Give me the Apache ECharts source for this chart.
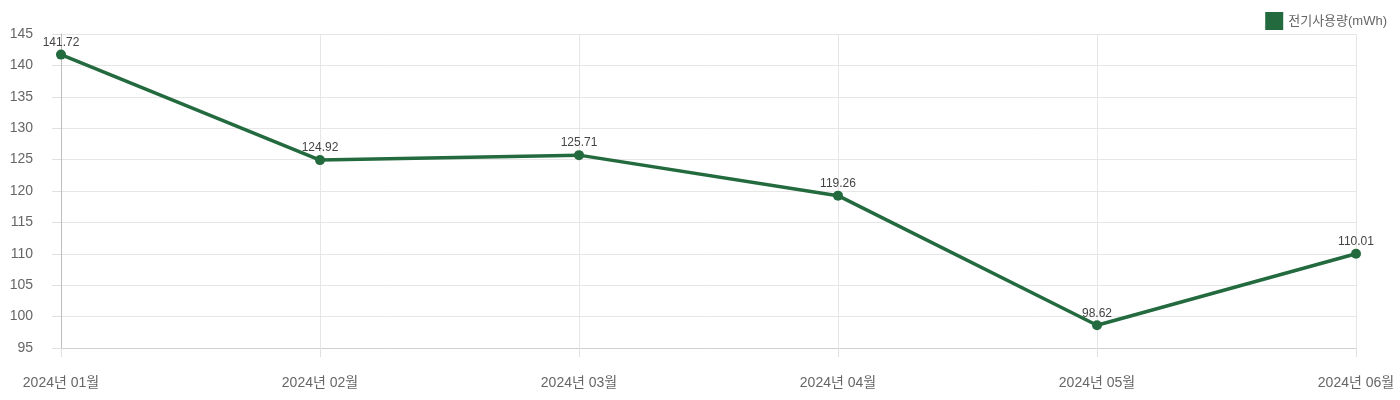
<!DOCTYPE html>
<html>
<head>
<meta charset="utf-8">
<script src="https://cdn.jsdelivr.net/npm/echarts@6/dist/echarts.min.js"></script>
<style>
  html, body { margin: 0; padding: 0; background: #fff; }
  #chart { width: 1400px; height: 400px; }
</style>
</head>
<body>
<div id="chart"></div>
<script>
var months = ['2024년 01월', '2024년 02월', '2024년 03월', '2024년 04월', '2024년 05월', '2024년 06월'];
var usage = [141.72, 124.92, 125.71, 119.26, 98.62, 110.01];
var seriesName = '전기사용량(mWh)';

var chart = echarts.init(document.getElementById('chart'));
var font = '"Liberation Sans", "Noto Sans CJK KR", sans-serif';

var option = {
    animation: false,
    textStyle: { fontFamily: font },
    legend: {
        top: 7,
        right: 8,
        itemWidth: 18,
        itemHeight: 18,
        itemGap: 6,
        icon: 'rect',
        textStyle: { color: '#666', fontSize: 13, fontFamily: font },
        data: [seriesName]
    },
    grid: {
        left: 61,
        right: 44,
        top: 34,
        bottom: 52
    },
    xAxis: {
        type: 'category',
        data: months,
        boundaryGap: false,
        axisLine: { lineStyle: { color: '#d0d0d0' } },
        axisTick: { show: true, length: 9, lineStyle: { color: '#e0e0e0' } },
        axisLabel: { color: '#666', fontSize: 14, margin: 28, interval: 0, fontFamily: font },
        splitLine: { show: true, lineStyle: { color: '#e6e6e6' } }
    },
    yAxis: {
        type: 'value',
        min: 95,
        max: 145,
        interval: 5,
        axisLine: { show: true, lineStyle: { color: '#bdbdbd' } },
        axisTick: { show: true, length: 9, lineStyle: { color: '#e0e0e0' } },
        axisLabel: { color: '#666', fontSize: 14, margin: 28, fontFamily: font },
        splitLine: { lineStyle: { color: '#e6e6e6' } }
    },
    series: [
        {
            name: seriesName,
            type: 'line',
            data: usage,
            color: '#236b3e',
            symbol: 'circle',
            symbolSize: 10,
            lineStyle: { width: 3.5, color: '#236b3e' },
            itemStyle: { color: '#236b3e' },
            label: {
                show: true,
                position: 'top',
                distance: 1,
                color: '#444',
                fontSize: 12,
                fontFamily: font
            }
        }
    ]
};

chart.setOption(option);
</script>
</body>
</html>
